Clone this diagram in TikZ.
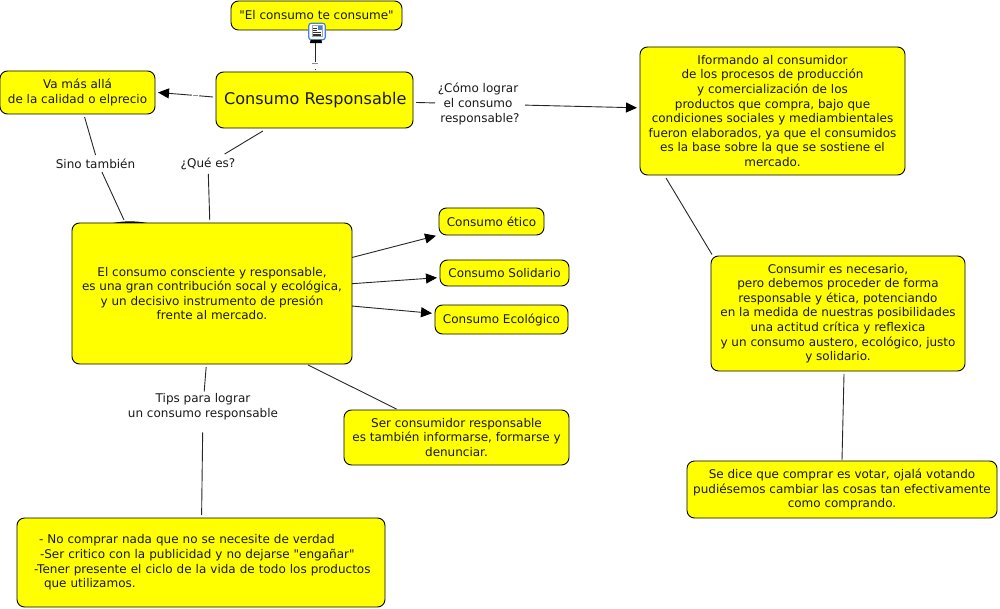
\documentclass[tikz,border=0pt]{standalone}
\usepackage{fontspec}
\setmainfont{DejaVu Sans}[Ligatures=TeXOff]
\usetikzlibrary{arrows.meta,calc}
\definecolor{cyel}{RGB}{255,255,0}
\definecolor{iconblue}{RGB}{70,130,215}
\tikzset{
  concept/.style={draw=black,fill=cyel,rounded corners=7.5pt,line width=0.9pt,align=center,
    font=\fontsize{12}{14.6}\selectfont,inner sep=0pt,outer sep=3pt,text=black!90},
  wh/.style 2 args={minimum width=#1pt,minimum height=#2pt},
  linklabel/.style={align=center,font=\fontsize{12}{14.6}\selectfont,inner sep=0pt,outer sep=0pt,text=black!90},
  tinydash/.style={fill=black!45,inner sep=0pt,outer sep=1pt,minimum height=0.9pt},
  conn/.style={line width=0.9pt,draw=black!85},
  arrowconn/.style={conn,-{Triangle[length=11pt,width=10pt,color=black]}},
}
\begin{document}
\begin{tikzpicture}[x=1pt,y=-1pt]
\useasboundingbox (0,0) rectangle (1000,609);
% concepts
\node[concept,wh={171}{29}] (title) at (316.5,15.5) {"El consumo te consume"};
\node[concept,wh={197}{56},font=\fontsize{16.1}{20}\selectfont] (cr) at (314.5,100) {\hspace*{1.5pt}Consumo Responsable};
\node[concept,wh={155}{43}] (vamas) at (77.5,92.5) {Va más allá\\de la calidad o elprecio};
\node[concept,wh={280}{141}] (main) at (212,293.5) {El consumo consciente y responsable,\\es una gran contribución socal y ecológica,\hspace*{2pt}\\y un decisivo instrumento de presión\\frente al mercado.};
\node[concept,wh={105}{27}] (etico) at (491.5,221.5) {Consumo ético};
\node[concept,wh={129}{26}] (solid) at (504.5,273) {Consumo Solidario};
\node[concept,wh={133}{29}] (ecol) at (501.5,319.5) {Consumo Ecológico};
\node[concept,wh={225}{55}] (ser) at (456.5,437.5) {Ser consumidor responsable\\es también informarse, formarse y\\denunciar.};
\node[concept,wh={368}{89},align=left,text width=368pt] (tips) at (201,562.5) {\hspace*{22pt}- No comprar nada que no se necesite de verdad\\\hspace*{23pt}-Ser critico con la publicidad y no dejarse "engañar"\\\hspace*{17pt}-Tener presente el ciclo de la vida de todo los productos\\\hspace*{27pt}que utilizamos.};
\node[concept,wh={265}{128}] (iform) at (772.5,111) {Iformando al consumidor\\de los procesos de producción\\y comercialización de los\\productos que compra, bajo que\\condiciones sociales y mediambientales\\fueron elaborados, ya que el consumidos\\es la base sobre la que se sostiene el\\mercado.};
\node[concept,wh={254}{115}] (cons) at (838,313.5) {Consumir es necesario,\\pero debemos proceder de forma\\responsable y ética, potenciando\\en la medida de nuestras posibilidades\\una actitud crítica y reflexica\\y un consumo austero, ecológico, justo\\y solidario.};
\node[concept,wh={310}{57}] (sedice) at (842,489.5) {Se dice que comprar es votar, ojalá votando\\pudiésemos cambiar las cosas tan efectivamente\\como comprando.};
% linking phrases
\node[linklabel,wh={60}{20}] (lque) at (208,164) {¿Qué es?};
\node[linklabel,wh={60}{17}] (lsino) at (98,163.5) {Sino también\hspace*{5pt}};
\node[linklabel,wh={94}{46}] (lcomo) at (478,104) {¿Cómo lograr\\el consumo\\\hspace*{4pt}responsable?};
\node[linklabel,wh={150}{30}] (ltips) at (203,406.5) {Tips para lograr\\un consumo responsable};
\node[tinydash,minimum width=5.5pt] (lva) at (195.5,95.5) {};
\node[tinydash,minimum width=6pt] (ltit) at (315,63) {};
% icon on the top concept
\node[draw=iconblue,fill=white,rounded corners=2.5pt,line width=1.2pt,minimum width=16.5pt,minimum height=16.5pt,inner sep=0pt,outer sep=0pt] (icon) at (317,31.5) {};
\fill[black] ($(icon.south)+(-6.5,0.5)$) -- ($(icon.south)+(4.5,0.5)$) -- ($(icon.south)+(5,3.5)$) -- ($(icon.south)+(-7,3.5)$) -- cycle;
\fill[black!35] ($(icon.center)+(-5.5,-6)$) rectangle ($(icon.center)+(5.5,6)$);
\fill[white] ($(icon.center)+(-4.5,-5)$) rectangle ($(icon.center)+(4.5,5)$);
\fill[iconblue] ($(icon.center)+(0.5,-5)$) rectangle ($(icon.center)+(4.5,-1)$);
\foreach \yy in {-3.5,-1.5,0.5,2.5,4.2}{
  \draw[black!80,line width=0.8pt] ($(icon.center)+(-4,\yy)$) -- ($(icon.center)+({\yy>-1?4:0},\yy)$);}
% connectors
\draw[conn,shorten <=5pt] (ltit) -- (ltit|-cr.north);
\draw[conn] (ltit) -- ($(ltit|-icon.south)+(0,3)$);
\draw[conn] ($(cr.west)+(0,-3)$) -- (lva);
\draw[arrowconn] (lva) -- (vamas.east);
\draw[conn,shorten >=-4pt] (cr) -- (lcomo);
\draw[arrowconn] (lcomo) -- (iform);
\draw[conn] (cr) -- (lque);
\draw[conn] (lque) -- (main);
\draw[conn] (vamas) -- (lsino);
\draw[conn] (lsino) -- ($(main.north)+(-88,0)$);
\fill[black] ($(main.north)+(-99,3)$) .. controls ($(main.north)+(-88,0.8)$) and ($(main.north)+(-76,0.8)$) .. ($(main.north)+(-65,3)$) -- cycle;
\draw[arrowconn,shorten <=-3pt] (main) -- (etico);
\draw[arrowconn,shorten <=-3pt] (main) -- (solid);
\draw[arrowconn,shorten <=-3pt] (main) -- (ecol);
\draw[conn] ($(main.south)+(96,-2)$) -- ($(ser.north)+(-60,2)$);
\draw[conn] (main) -- (ltips);
\draw[conn,shorten <=11pt] (ltips) -- (tips);
\draw[conn] ($(iform.south)+(-106.5,0)$) -- ($(cons.north)+(-126,1.5)$);
\draw[conn] ($(cons.south)+(6,0)$) -- ($(sedice.north)+(0,2)$);
\end{tikzpicture}
\end{document}
